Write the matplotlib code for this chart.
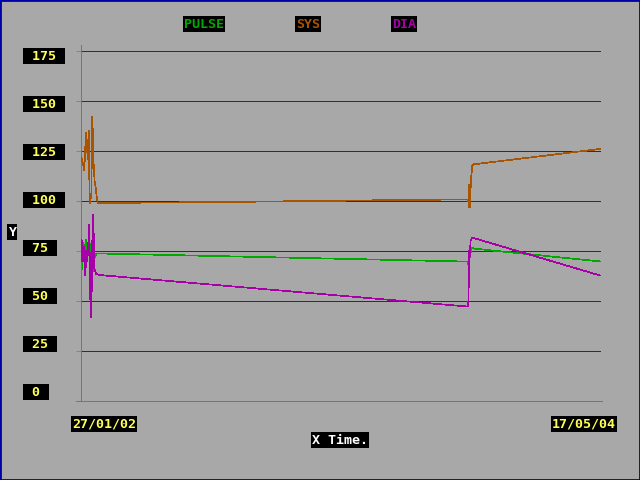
import matplotlib
matplotlib.use("Agg")
import matplotlib.pyplot as plt
from matplotlib.lines import Line2D
from matplotlib.patches import Rectangle

# days since 27/01/02
pulse_days = [0.5, 2.1, 3.7, 5.3, 8.1, 9.7, 11.9, 13.4, 15, 16.7, 18.3, 19.9, 21.5, 23.1, 24.7,
              626.3, 626.8, 628, 628.5, 630, 632, 635, 839]
pulse_vals = [64, 69.7, 79, 74, 80.5, 74, 77, 77, 78.7, 67, 75, 65, 71.7, 72, 73.8,
              69.7, 65.5, 59.7, 71.5, 74, 76.8, 76.2, 69.8]

sys_days = [0.5, 2.1, 3.7, 5.3, 7, 8.6, 10.8, 12.5, 14, 16.7, 18.3, 20.5, 22, 23.8, 25.4, 27,
            230, 380, 520, 626.3, 627, 628, 629, 630.6, 632.7, 634, 839]
sys_vals = [122, 119.7, 118, 115.5, 127, 134, 121, 135, 99, 103, 142, 118, 110, 106.5, 102, 99,
            99.5, 100, 100.5, 100.8, 96.7, 108, 96.7, 110, 117.7, 118.3, 126]

dia_days = [0.5, 1, 2.1, 3.7, 5.3, 7, 8.6, 10.2, 13.4, 15, 16.7, 18.3, 19.9, 21.5, 23.1, 24.7, 29.6,
            626.3, 627, 628, 629, 630, 632.7, 839]
dia_vals = [80.8, 69.7, 80, 69.7, 77, 63, 75, 69.7, 88, 51.3, 42, 80, 93, 66.5, 65, 63.5, 63,
            47.2, 57.5, 75, 72.2, 80, 81.7, 62.8]

y_ticks = [0, 25, 50, 75, 100, 125, 150, 175]
x_labels = ["27/01/02", "17/05/04"]
series = ["PULSE", "SYS", "DIA"]

BG = "#A8A8A8"
CYAN = "#00A8A8"
GRID = "#A00000"
YELLOW = "#FFFF54"
colors = {"PULSE": "#00A800", "SYS": "#A85400", "DIA": "#A800A8"}
LW = 0.5

W, H = 640, 480
fig = plt.figure(figsize=(6.4, 4.8), dpi=100, facecolor=BG)
ax = fig.add_axes([81 / W, 1 - 401 / H, 520 / W, 356 / H])
ax.set_facecolor(BG)
ax.set_xlim(0, 841)
ax.set_ylim(0, 178)

for v in y_ticks[1:]:
    ax.axhline(v, color=GRID, lw=LW, zorder=1, antialiased=False)

ax.plot(pulse_days, pulse_vals, color=colors["PULSE"], lw=LW, zorder=2, antialiased=False)
ax.plot(sys_days, sys_vals, color=colors["SYS"], lw=LW, zorder=3, antialiased=False)
ax.plot(dia_days, dia_vals, color=colors["DIA"], lw=LW, zorder=4, antialiased=False)

for s in ["top", "right", "bottom"]:
    ax.spines[s].set_visible(False)
ax.spines["left"].set_color(CYAN)
ax.spines["left"].set_linewidth(LW)
ax.spines["left"].set_antialiased(False)
ax.set_xticks([])
ax.set_yticks(y_ticks)
ax.set_yticklabels([])
ax.tick_params(axis="y", direction="out", length=3.6, width=LW, color=CYAN)

# bottom axis line, a bit wider than the plot area
fig.add_artist(Line2D([76 / W, 602 / W], [1 - 401 / H, 1 - 401 / H], color=CYAN, lw=LW,
                      antialiased=False))

font = dict(family="DejaVu Sans Mono", weight="bold", fontsize=9.6)
box = dict(boxstyle="square,pad=0.1", facecolor="black", edgecolor="none")


def label(x, y, s, color):
    fig.text(x / W, 1 - y / H, s, color=color, ha="left", va="center", bbox=box, **font)


# y tick labels (spaced independently of the ticks, like the original)
for i, v in enumerate(y_ticks[::-1]):
    label(24, 56 + 48 * i, " %d " % v, YELLOW)

label(8, 232, "Y", "white")
label(72, 424, x_labels[0], YELLOW)
label(552, 424, x_labels[1], YELLOW)
label(312, 440, "X Time.", "white")

for name, x in zip(series, [184, 296, 392]):
    label(x, 24, name, colors[name])

fig.add_artist(Rectangle((0, 0), 1, 1, transform=fig.transFigure, fill=False,
                         edgecolor="#0000A8", lw=2))

fig.savefig("out.png", dpi=100, facecolor=BG)
